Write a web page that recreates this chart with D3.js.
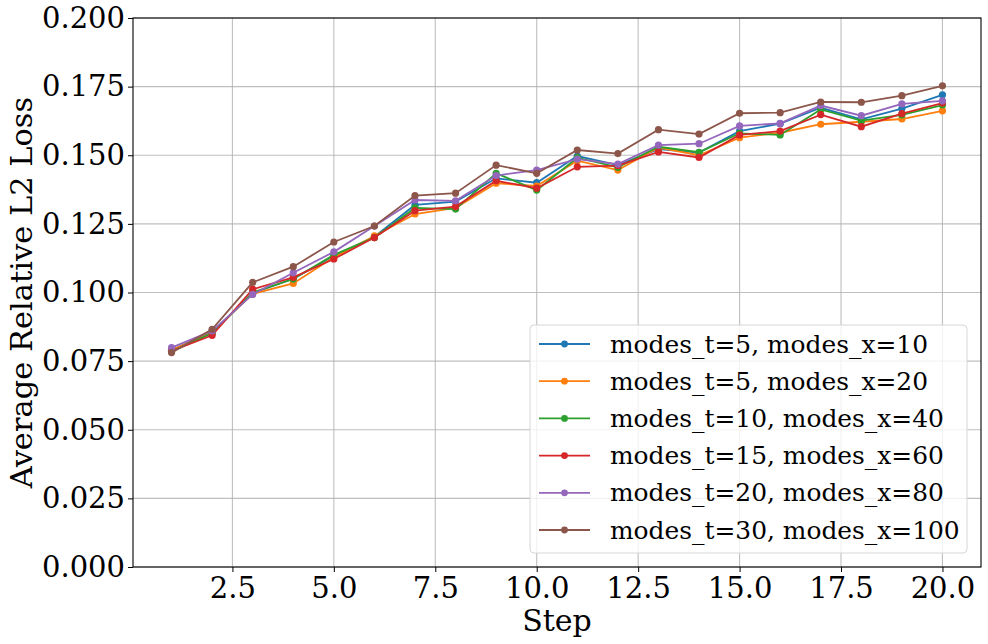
<!DOCTYPE html>
<html><head><meta charset="utf-8">
<script src="https://cdn.jsdelivr.net/npm/d3@7"></script>
<style>
html,body{margin:0;padding:0;background:#fff;}
svg text{font-family:"DejaVu Serif",serif;fill:#000;}
</style></head>
<body><svg id="c" width="988" height="644"></svg>
<script>
const steps = d3.range(1, 21);
const seriesNames = ["modes_t=5, modes_x=10","modes_t=5, modes_x=20","modes_t=10, modes_x=40","modes_t=15, modes_x=60","modes_t=20, modes_x=80","modes_t=30, modes_x=100"];
const colors = ["#1f77b4","#ff7f0e","#2ca02c","#d62728","#9467bd","#8c564b"];
const s5_10  = [0.0790,0.0855,0.0998,0.1050,0.1133,0.1203,0.1319,0.1331,0.1416,0.1400,0.1497,0.1464,0.1522,0.1510,0.1588,0.1615,0.1673,0.1631,0.1670,0.1720];
const s5_20  = [0.0790,0.0855,0.0995,0.1033,0.1128,0.1206,0.1286,0.1308,0.1398,0.1388,0.1480,0.1446,0.1528,0.1500,0.1564,0.1582,0.1613,0.1622,0.1632,0.1662];
const s10_40 = [0.0785,0.0852,0.1000,0.1049,0.1137,0.1200,0.1308,0.1304,0.1434,0.1373,0.1491,0.1456,0.1531,0.1511,0.1580,0.1574,0.1667,0.1626,0.1647,0.1683];
const s15_60 = [0.0787,0.0844,0.1012,0.1055,0.1122,0.1200,0.1298,0.1313,0.1407,0.1380,0.1458,0.1462,0.1512,0.1492,0.1574,0.1588,0.1648,0.1604,0.1652,0.1690];
const s20_80 = [0.0799,0.0860,0.0993,0.1072,0.1148,0.1242,0.1337,0.1334,0.1426,0.1446,0.1486,0.1468,0.1537,0.1542,0.1607,0.1616,0.1681,0.1644,0.1687,0.1698];
const s30_100= [0.0781,0.0866,0.1037,0.1094,0.1184,0.1242,0.1353,0.1362,0.1464,0.1434,0.1519,0.1506,0.1593,0.1577,0.1653,0.1655,0.1694,0.1693,0.1717,0.1753];
const allSeries = [s5_10, s5_20, s10_40, s15_60, s20_80, s30_100];
const xTicks = [2.5,5.0,7.5,10.0,12.5,15.0,17.5,20.0];
const yTicks = [0,0.025,0.05,0.075,0.1,0.125,0.15,0.175,0.2];

const W=988,H=644, m={l:133,r:7,t:18,b:77};
const svg=d3.select("#c");
const x=d3.scaleLinear().domain([0.05,20.95]).range([m.l,W-m.r]);
const y=d3.scaleLinear().domain([0,0.2]).range([H-m.b,m.t]);

// grid
const g=svg.append("g");
g.selectAll(".gx").data(xTicks).enter().append("line")
 .attr("x1",d=>x(d)).attr("x2",d=>x(d)).attr("y1",m.t).attr("y2",H-m.b)
 .attr("stroke","#b0b0b0").attr("stroke-width",1.1).attr("opacity",0.8);
g.selectAll(".gy").data(yTicks).enter().append("line")
 .attr("y1",d=>y(d)).attr("y2",d=>y(d)).attr("x1",m.l).attr("x2",W-m.r)
 .attr("stroke","#b0b0b0").attr("stroke-width",1.1).attr("opacity",0.8);

// axes
const xa=svg.append("g").attr("transform",`translate(0,${H-m.b})`)
 .call(d3.axisBottom(x).tickValues(xTicks).tickFormat(d3.format(".1f")).tickSize(5).tickPadding(5));
const ya=svg.append("g").attr("transform",`translate(${m.l},0)`)
 .call(d3.axisLeft(y).tickValues(yTicks).tickFormat(d3.format(".3f")).tickSize(5).tickPadding(3));
[xa,ya].forEach(a=>{a.select(".domain").remove();a.selectAll("text").attr("font-family","DejaVu Serif").attr("font-size",29).attr("fill","#000");a.selectAll("line").attr("stroke","#000").attr("stroke-width",1);});

// lines
const line=d3.line().x((d,i)=>x(steps[i])).y(d=>y(d));
allSeries.forEach((s,k)=>{
  svg.append("path").datum(s).attr("d",line).attr("fill","none").attr("stroke",colors[k]).attr("stroke-width",1.8);
  svg.append("g").selectAll("circle").data(s).enter().append("circle")
   .attr("cx",(d,i)=>x(steps[i])).attr("cy",d=>y(d)).attr("r",3.6).attr("fill",colors[k]);
});

// frame
svg.append("rect").attr("x",m.l).attr("y",m.t).attr("width",W-m.l-m.r).attr("height",H-m.t-m.b)
 .attr("fill","none").attr("stroke","#000").attr("stroke-width",1.1);

// labels
svg.append("text").attr("x",(m.l+W-m.r)/2).attr("y",631).attr("text-anchor","middle").attr("font-size",30).text("Step");
svg.append("text").attr("transform",`translate(32,${(m.t+H-m.b)/2}) rotate(-90)`).attr("text-anchor","middle").attr("font-size",30.5).text("Average Relative L2 Loss");

// legend
const lg=svg.append("g");
lg.append("rect").attr("x",530).attr("y",325).attr("width",437).attr("height",228).attr("rx",4)
 .attr("fill","#fff").attr("fill-opacity",0.8).attr("stroke","#d6d6d6").attr("stroke-width",1);
seriesNames.forEach((n,k)=>{
  const yy=344+k*37.2;
  lg.append("line").attr("x1",539).attr("x2",590).attr("y1",yy).attr("y2",yy).attr("stroke",colors[k]).attr("stroke-width",1.8);
  lg.append("circle").attr("cx",564.5).attr("cy",yy).attr("r",3.4).attr("fill",colors[k]);
  lg.append("text").attr("x",610).attr("y",yy+8.5).attr("font-size",24.9).text(n);
});
</script></body></html>
